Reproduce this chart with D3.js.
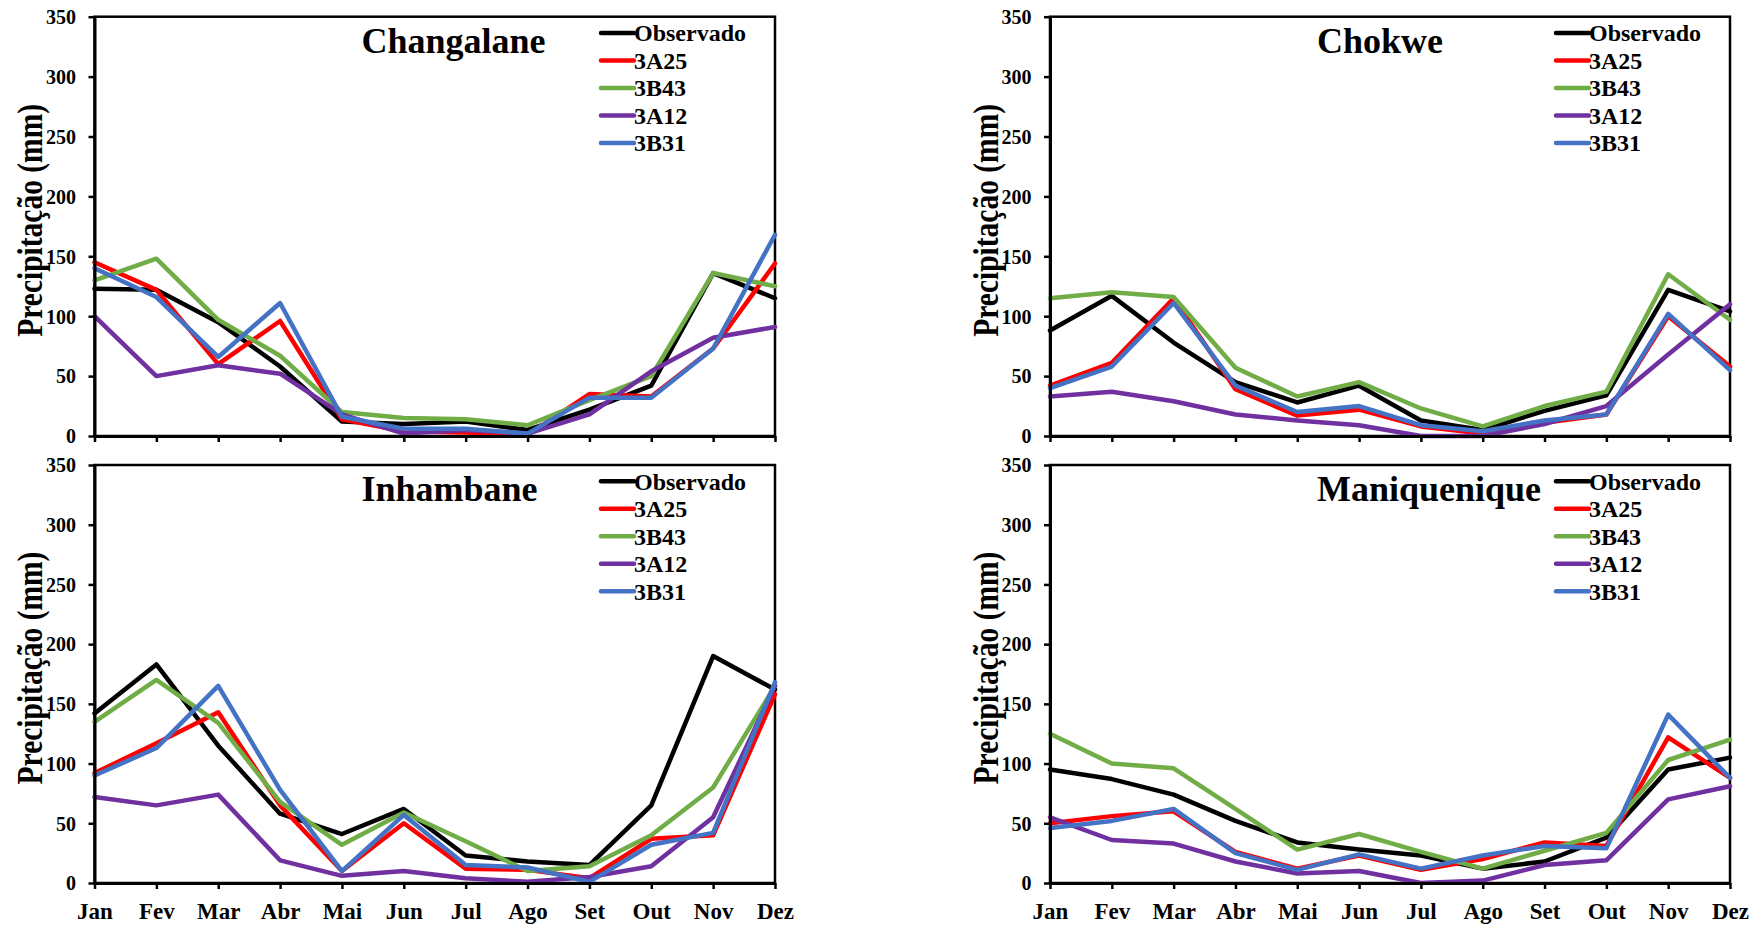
<!DOCTYPE html>
<html>
<head>
<meta charset="utf-8">
<script src="https://cdn.jsdelivr.net/npm/d3@7/dist/d3.min.js"></script>
<style>
  html, body { margin: 0; padding: 0; background: #fff; }
  svg text { font-family: "Liberation Serif", "Times New Roman", serif; font-weight: bold; fill: #000; }
</style>
</head>
<body>
<svg id="chart" width="1762" height="929"></svg>
<script>
// ---- data ----
const months = ["Jan","Fev","Mar","Abr","Mai","Jun","Jul","Ago","Set","Out","Nov","Dez"];
const seriesNames = ["Observado","3A25","3B43","3A12","3B31"];
const seriesColors = ["#000000","#FF0000","#70AD47","#7030A0","#4472C4"];
const yTicks = [0,50,100,150,200,250,300,350];
const stations = ["Changalane","Chokwe","Inhambane","Maniquenique"];

const changalaneObservado = [123,122,95,58,12,10,12,5,22,42,136,115];
const changalane3A25      = [145,122,60,96,14,4,3,1,35,33,73,144];
const changalane3B43      = [130,148,97,67,20,15,14,9,30,50,136,125];
const changalane3A12      = [100,50,59,52,18,2,5,2,18,54,82,91];
const changalane3B31      = [140,116,66,111,16,6,6,2,32,32,73,168];

const chokweObservado = [88,117,78,45,28,42,13,5,21,34,122,104];
const chokwe3A25      = [42,61,115,39,17,22,8,2,11,18,100,58];
const chokwe3B43      = [115,120,116,57,33,45,23,8,25,37,135,97];
const chokwe3A12      = [33,37,29,18,13,9,0,0,10,25,68,110];
const chokwe3B31      = [40,58,111,42,20,25,9,4,13,18,102,55];

const inhambaneObservado = [142,183,115,58,41,62,23,18,15,65,190,162];
const inhambane3A25      = [92,117,143,65,10,50,12,11,4,37,40,158];
const inhambane3B43      = [135,170,134,68,32,59,35,10,14,40,80,165];
const inhambane3A12      = [72,65,74,19,6,10,4,1,5,14,55,165];
const inhambane3B31      = [90,113,165,78,10,57,15,13,1,32,42,168];

const maniqueniqueObservado = [95,87,74,52,34,28,23,12,18,38,95,105];
const maniquenique3A25      = [50,56,60,26,12,23,11,20,34,31,122,88];
const maniquenique3B43      = [125,100,96,62,28,41,26,12,27,42,103,120];
const maniquenique3A12      = [55,36,33,18,8,10,0,2,15,19,70,81];
const maniquenique3B31      = [46,52,62,25,11,24,12,23,31,29,141,88];

const stationSeries = [
  [changalaneObservado, changalane3A25, changalane3B43, changalane3A12, changalane3B31],
  [chokweObservado, chokwe3A25, chokwe3B43, chokwe3A12, chokwe3B31],
  [inhambaneObservado, inhambane3A25, inhambane3B43, inhambane3A12, inhambane3B31],
  [maniqueniqueObservado, maniquenique3A25, maniquenique3B43, maniquenique3A12, maniquenique3B31]
];

// ---- layout ----
const panels = [
  {x0: 94.5, x1: 775,  y0: 16.7, y1: 436, months: false},
  {x0: 1050, x1: 1730, y0: 16.7, y1: 436, months: false},
  {x0: 94.5, x1: 775,  y0: 465,  y1: 883, months: true},
  {x0: 1050, x1: 1730, y0: 465,  y1: 883, months: true}
];

const svg = d3.select("#chart");

panels.forEach((p, pi) => {
  const g = svg.append("g");
  const x = d3.scalePoint().domain(months).range([p.x0, p.x1]);
  const y = d3.scaleLinear().domain([0, 350]).range([p.y1, p.y0]);

  // frame
  g.append("rect")
    .attr("x", p.x0).attr("y", p.y0)
    .attr("width", p.x1 - p.x0).attr("height", p.y1 - p.y0)
    .attr("fill", "none").attr("stroke", "#000").attr("stroke-width", 2.5);

  // y-axis title
  const cy = (p.y0 + p.y1) / 2 - 6;
  g.append("text")
    .attr("transform", `translate(${p.x0 - 52.5},${cy}) rotate(-90) scale(1,1.18)`)
    .attr("text-anchor", "middle")
    .style("font-size", "29.5px")
    .text("Precipitação (mm)");

  // series lines
  const line = d3.line()
    .x((d, i) => x(months[i]))
    .y(d => y(d));
  stationSeries[pi].forEach((vals, si) => {
    g.append("path")
      .datum(vals)
      .attr("d", line)
      .attr("fill", "none")
      .attr("stroke", seriesColors[si])
      .attr("stroke-width", 4.5)
      .attr("stroke-linejoin", "round")
      .attr("stroke-linecap", "round");
  });

  // y axis
  const yAxis = g.append("g")
    .attr("transform", `translate(${p.x0},0)`)
    .call(d3.axisLeft(y).tickValues(yTicks).tickSize(6).tickSizeOuter(0));
  yAxis.select(".domain").attr("stroke", "#000").attr("stroke-width", 3);
  yAxis.selectAll(".tick line").attr("stroke", "#000").attr("stroke-width", 2.5);
  yAxis.selectAll(".tick text")
    .attr("x", -18.5)
    .attr("dy", "0.34em")
    .style("font-size", "20px")
    .style("font-family", "'Liberation Serif','Times New Roman',serif")
    .style("font-weight", "bold")
    .attr("fill", "#000");

  // x axis
  const xAxis = g.append("g")
    .attr("transform", `translate(0,${p.y1})`)
    .call(d3.axisBottom(x).tickSize(6).tickSizeOuter(0).tickFormat(d => p.months ? d : ""));
  xAxis.select(".domain").attr("stroke", "#000").attr("stroke-width", 3);
  xAxis.selectAll(".tick line").attr("stroke", "#000").attr("stroke-width", 2.5);
  xAxis.selectAll(".tick text")
    .attr("y", 36)
    .attr("dy", 0)
    .style("font-size", "23px")
    .style("font-family", "'Liberation Serif','Times New Roman',serif")
    .style("font-weight", "bold")
    .attr("fill", "#000");

  // station title
  g.append("text")
    .attr("x", p.x0 + 267)
    .attr("y", p.y0 + 36)
    .style("font-size", "36px")
    .text(stations[pi]);

  // legend
  seriesNames.forEach((name, si) => {
    const ly = p.y0 + 16.3 + si * 27.5;
    g.append("line")
      .attr("x1", p.x1 - 174).attr("x2", p.x1 - 141)
      .attr("y1", ly).attr("y2", ly)
      .attr("stroke", seriesColors[si])
      .attr("stroke-width", 4.5)
      .attr("stroke-linecap", "round");
    g.append("text")
      .attr("x", p.x1 - 141)
      .attr("y", ly)
      .attr("dy", "0.35em")
      .style("font-size", "24px")
      .text(name);
  });
});
</script>
</body>
</html>
